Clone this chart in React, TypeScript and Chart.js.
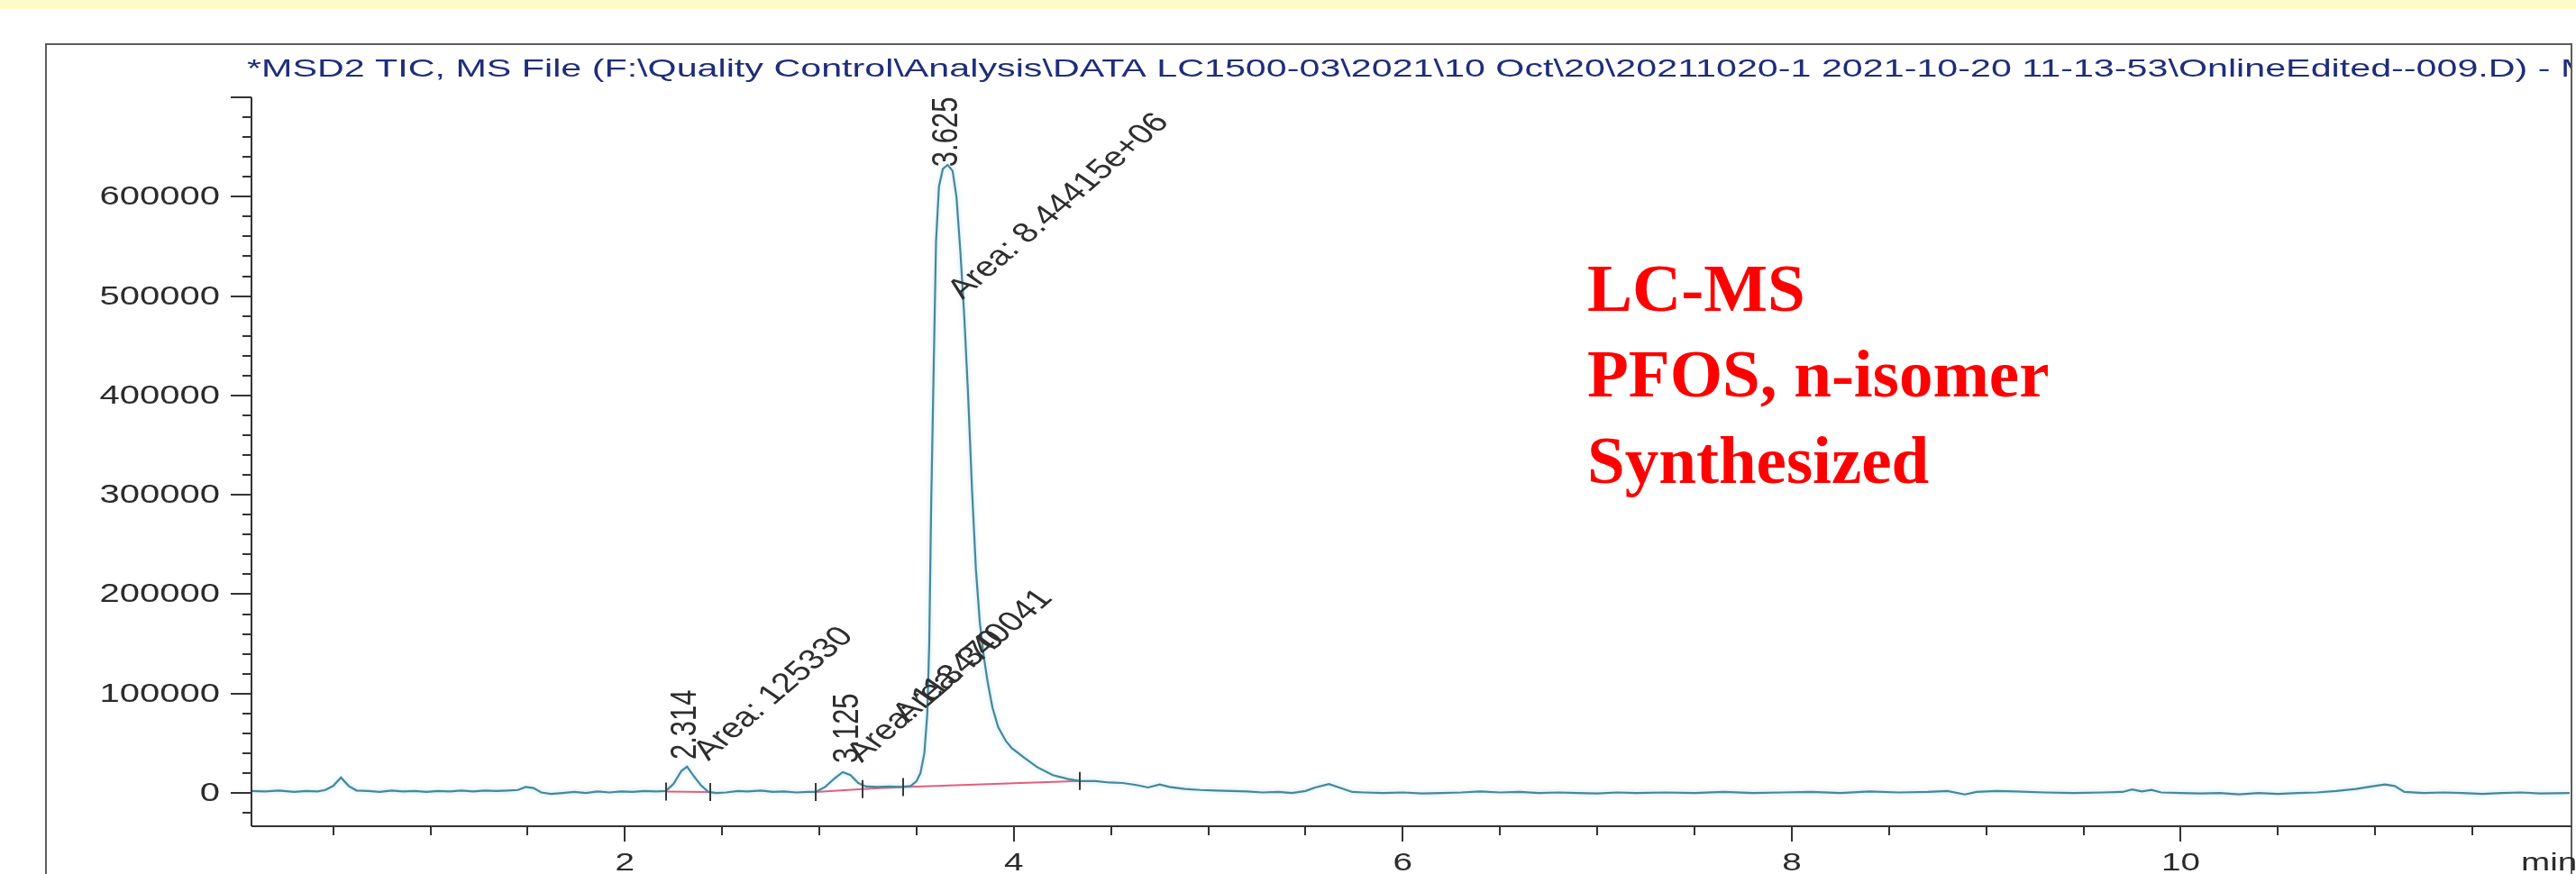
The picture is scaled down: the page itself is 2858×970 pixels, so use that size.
import React, { useEffect, useRef } from 'react';
import { Chart, registerables } from 'chart.js';

Chart.register(...registerables);

// ---------- data ----------
const TIMES = [
  0.08, 0.15, 0.22, 0.30, 0.36, 0.42, 0.46, 0.50, 0.54, 0.58, 0.62, 0.68, 0.74, 0.80, 0.86, 0.92, 0.98,
  1.04, 1.10, 1.16, 1.22, 1.28, 1.34, 1.40, 1.45, 1.49, 1.53, 1.57, 1.62, 1.68, 1.74, 1.80, 1.86, 1.92, 1.98,
  2.04, 2.10, 2.16, 2.21, 2.25, 2.29, 2.32, 2.35, 2.39, 2.43, 2.47, 2.52, 2.58, 2.63, 2.70, 2.76, 2.82, 2.88, 2.94,
  2.98, 3.03, 3.08, 3.12, 3.16, 3.20, 3.24, 3.30, 3.36, 3.42, 3.47, 3.50, 3.52, 3.54, 3.555, 3.565, 3.575, 3.59,
  3.60, 3.615, 3.635, 3.66, 3.685, 3.705, 3.725, 3.745, 3.765, 3.785, 3.805, 3.825, 3.845, 3.865, 3.89, 3.92, 3.96, 3.99,
  4.05, 4.12, 4.20, 4.28, 4.34, 4.42, 4.49, 4.56, 4.63, 4.69, 4.75, 4.80, 4.88, 4.96, 5.04, 5.12, 5.20, 5.28,
  5.36, 5.43, 5.50, 5.55, 5.62, 5.68, 5.74, 5.80, 5.90, 6.00, 6.10, 6.20, 6.30, 6.40, 6.50, 6.60, 6.70, 6.80,
  6.90, 7.00, 7.10, 7.20, 7.35, 7.50, 7.65, 7.80, 7.95, 8.10, 8.25, 8.40, 8.55, 8.70, 8.80, 8.89, 8.95, 9.05,
  9.15, 9.30, 9.45, 9.60, 9.70, 9.75, 9.80, 9.85, 9.90, 10.00, 10.10, 10.20, 10.30, 10.40, 10.50, 10.60, 10.70,
  10.80, 10.90, 10.98, 11.05, 11.10, 11.15, 11.25, 11.35, 11.45, 11.55, 11.65, 11.75, 11.85, 12.00,
];
const INTENSITY = [
  2000, 1500, 2500, 1000, 2000, 1500, 3000, 7000, 15500, 7000, 2500, 2000, 1000, 2500, 1500, 2000, 1000,
  2000, 1500, 2500, 1500, 2500, 2000, 2500, 3000, 6000, 5000, 500, -1000, 0, 1000, 0, 1500, 500, 1500,
  1000, 2000, 1500, 2000, 9000, 22000, 26500, 18000, 8000, 1000, 0, 500, 2000, 1500, 2500, 1000, 1500, 500, 1000,
  1000, 6000, 15000, 21000, 18000, 10000, 6500, 6000, 6500, 6000, 7000, 12000, 20000, 40000, 80000, 150000, 290000, 450000,
  555000, 610000, 628000, 632000, 626000, 600000, 545000, 480000, 400000, 305000, 225000, 172000, 138000, 112000, 86000, 66000, 52000, 45000,
  36000, 26000, 18000, 14000, 12000, 12000, 10500, 10000, 8000, 5500, 8500, 6000, 4000, 3000, 2500, 2000, 1500, 500,
  1000, 0, 2000, 5500, 9000, 5000, 1000, 500, 0, 500, -500, 0, 500, 1500, 500, 1000, 0, 500,
  0, -500, 500, 0, 500, 0, 1000, 0, 500, 1000, 0, 1500, 500, 1000, 2000, -1500, 1000, 2000,
  1500, 500, 0, 500, 1000, 3500, 1500, 3000, 500, 0, -500, 0, -1500, 0, -1000, 0, 500,
  2000, 4000, 6500, 8500, 7000, 1000, 0, 500, 0, -1000, 0, 500, -500, 0,
];

// integration baselines (start/end time and intensity)
const BASE_START_T = [2.21, 2.98, 3.22, 3.43];
const BASE_START_I = [1500, 1000, 4000, 6000];
const BASE_END_T = [2.44, 3.22, 3.43, 4.34];
const BASE_END_I = [1000, 4000, 6000, 12000];

// integration start/end markers
const MARK_T = [2.21, 2.44, 2.98, 3.22, 3.43, 4.34];
const MARK_I = [1500, 1000, 1000, 4000, 6000, 12000];

// retention-time labels (vertical)
const RT_TEXT = ['2.314', '3.125', '3.625'];
const RT_T = [2.365, 3.199, 3.709];
const RT_I = [33600, 30000, 630000];

// area labels (diagonal)
const AREA_TEXT = ['Area: 125330', 'Area: 113470', 'Area: 340041', 'Area: 8.44415e+06'];
const AREA_T = [2.43, 3.218, 3.454, 3.737];
const AREA_I = [31800, 30000, 69900, 496000];

// axis ticks
const X_TICKS = [2, 4, 6, 8, 10];
const X_TICK_LABELS = ['2', '4', '6', '8', '10'];
const Y_TICKS = [0, 100000, 200000, 300000, 400000, 500000, 600000];
const Y_TICK_LABELS = ['0', '100000', '200000', '300000', '400000', '500000', '600000'];

const TITLE_PREFIX =
  '*MSD2 TIC, MS File (F:\\Quality Control\\Analysis\\DATA LC1500-03\\2021\\10 Oct\\20\\20211020-1 2021-10-20 11-13-53\\OnlineEdited--009.D) - ';
const TITLE_TAIL = 'MSD2 TIC';
const RED_LINES = ['LC-MS', 'PFOS, n-isomer', 'Synthesized'];

// ---------- drawing helpers ----------
const SANS = '"Liberation Sans", Arial, Helvetica, sans-serif';
const SX = 1.38;

function stretchedText(ctx: CanvasRenderingContext2D, text: string, x: number, y: number, sx: number, align: CanvasTextAlign, baseline: CanvasTextBaseline) {
  ctx.save();
  ctx.translate(x, y);
  ctx.scale(sx, 1);
  ctx.textAlign = align;
  ctx.textBaseline = baseline;
  ctx.fillText(text, 0, 0);
  ctx.restore();
}

const decor = {
  id: 'decor',
  beforeDraw(chart: any) {
    const ctx: CanvasRenderingContext2D = chart.ctx;
    ctx.save();
    ctx.fillStyle = '#ffffff';
    ctx.fillRect(0, 0, chart.width, chart.height);
    ctx.fillStyle = '#fdfbc6';
    ctx.fillRect(0, 0, chart.width, 10);
    // outer frame
    ctx.strokeStyle = '#5c5c5c';
    ctx.lineWidth = 2;
    ctx.strokeRect(51, 49, 2802, 1000);
    // title
    ctx.font = `28px ${SANS}`;
    const w = ctx.measureText(TITLE_PREFIX).width;
    const sx = (2841 - 274) / w;
    ctx.beginPath();
    ctx.rect(52, 50, 2800, 60);
    ctx.clip();
    ctx.fillStyle = '#1f2d7a';
    stretchedText(ctx, TITLE_PREFIX + TITLE_TAIL, 274, 85, sx, 'left', 'alphabetic');
    ctx.restore();
  },
  beforeDatasetDraw(chart: any, args: any) {
    if (args.index === 0) {
      const ctx = chart.ctx;
      ctx.save();
      ctx.shadowColor = 'rgba(120,195,230,0.55)';
      ctx.shadowBlur = 5;
    }
  },
  afterDatasetDraw(chart: any, args: any) {
    if (args.index === 0) chart.ctx.restore();
  },
  afterDraw(chart: any) {
    const ctx: CanvasRenderingContext2D = chart.ctx;
    const xs = chart.scales.x;
    const ys = chart.scales.y;
    const ca = chart.chartArea;
    const line = (x1: number, y1: number, x2: number, y2: number) => {
      ctx.beginPath();
      ctx.moveTo(x1, y1);
      ctx.lineTo(x2, y2);
      ctx.stroke();
    };
    ctx.save();
    ctx.strokeStyle = '#333333';
    ctx.lineWidth = 2;
    // axes
    line(ca.left, ca.top, ca.left, ca.bottom);
    line(ca.left, ca.bottom, ca.right + 2, ca.bottom);
    // y ticks: minor every 20000, major every 100000
    for (let v = -20000; v <= 700000; v += 20000) {
      const py = Math.round(ys.getPixelForValue(v));
      const major = v % 100000 === 0;
      line(ca.left - (major ? 23 : 10), py, ca.left, py);
    }
    // x ticks: minor every 0.5, major every 2
    for (let v = 0.5; v < 12; v += 0.5) {
      const px = Math.round(xs.getPixelForValue(v));
      const major = v % 2 === 0;
      line(px, ca.bottom, px, ca.bottom + (major ? 17 : 10));
    }
    // tick labels
    ctx.fillStyle = '#2b2b2b';
    ctx.font = `29px ${SANS}`;
    Y_TICKS.forEach((v, i) => {
      stretchedText(ctx, Y_TICK_LABELS[i], ca.left - 35, ys.getPixelForValue(v) + 1, SX, 'right', 'middle');
    });
    ctx.font = `28px ${SANS}`;
    X_TICKS.forEach((v, i) => {
      stretchedText(ctx, X_TICK_LABELS[i], xs.getPixelForValue(v), 966, SX, 'center', 'alphabetic');
    });
    stretchedText(ctx, 'min', 2797, 966, SX, 'left', 'alphabetic');

    // integration markers
    ctx.strokeStyle = '#3a3a3a';
    MARK_T.forEach((t, i) => {
      const px = Math.round(xs.getPixelForValue(t));
      const py = ys.getPixelForValue(MARK_I[i]);
      line(px, py - 10, px, py + 10);
    });

    // retention time labels (vertical)
    ctx.fillStyle = '#2e2e2e';
    ctx.font = `31px ${SANS}`;
    RT_TEXT.forEach((txt, i) => {
      ctx.save();
      ctx.translate(xs.getPixelForValue(RT_T[i]), ys.getPixelForValue(RT_I[i]));
      ctx.scale(1.3, 1);
      ctx.rotate(-Math.PI / 2);
      ctx.textAlign = 'left';
      ctx.textBaseline = 'alphabetic';
      ctx.fillText(txt, 0, 0);
      ctx.restore();
    });
    // area labels (diagonal)
    AREA_TEXT.forEach((txt, i) => {
      ctx.save();
      ctx.translate(xs.getPixelForValue(AREA_T[i]), ys.getPixelForValue(AREA_I[i]));
      ctx.scale(1.3, 1);
      ctx.rotate((-48 * Math.PI) / 180);
      ctx.textAlign = 'left';
      ctx.textBaseline = 'alphabetic';
      ctx.fillText(txt, 0, 0);
      ctx.restore();
    });

    // red annotation
    ctx.fillStyle = '#ff0000';
    ctx.font = 'bold 75px "Liberation Serif", "Times New Roman", Times, serif';
    ctx.textAlign = 'left';
    ctx.textBaseline = 'alphabetic';
    const baselines = [345, 440, 536];
    RED_LINES.forEach((t, i) => ctx.fillText(t, 1761, baselines[i]));
    ctx.restore();
  },
};

export default function App() {
  const ref = useRef<HTMLCanvasElement | null>(null);
  useEffect(() => {
    if (!ref.current) return;
    const trace = TIMES.map((t, i) => ({ x: t, y: INTENSITY[i] }));
    const baseSets = BASE_START_T.map((t, i) => ({
      data: [
        { x: t, y: BASE_START_I[i] },
        { x: BASE_END_T[i], y: BASE_END_I[i] },
      ],
      borderColor: '#e45d7a',
      borderWidth: 2,
      pointRadius: 0,
      tension: 0,
      fill: false,
    }));
    const chart = new Chart(ref.current, {
      type: 'line',
      data: {
        datasets: [
          {
            data: trace,
            borderColor: '#47879a',
            borderWidth: 2.2,
            pointRadius: 0,
            tension: 0,
            fill: false,
          },
          ...baseSets,
        ],
      },
      options: {
        responsive: false,
        animation: false,
        devicePixelRatio: 1,
        events: [],
        layout: { padding: { left: 279, right: 7, top: 108, bottom: 53 } },
        scales: {
          x: { type: 'linear', min: 0.08, max: 12.0, display: false },
          y: { type: 'linear', min: -33500, max: 700000, display: false },
        },
        plugins: { legend: { display: false }, tooltip: { enabled: false } },
      },
      plugins: [decor],
    } as any);
    return () => chart.destroy();
  }, []);
  return (
    <div style={{ position: 'fixed', left: 0, top: 0, width: 2858, height: 970, background: '#fff' }}>
      <canvas ref={ref} width={2858} height={970} style={{ display: 'block', width: 2858, height: 970 }} />
    </div>
  );
}
